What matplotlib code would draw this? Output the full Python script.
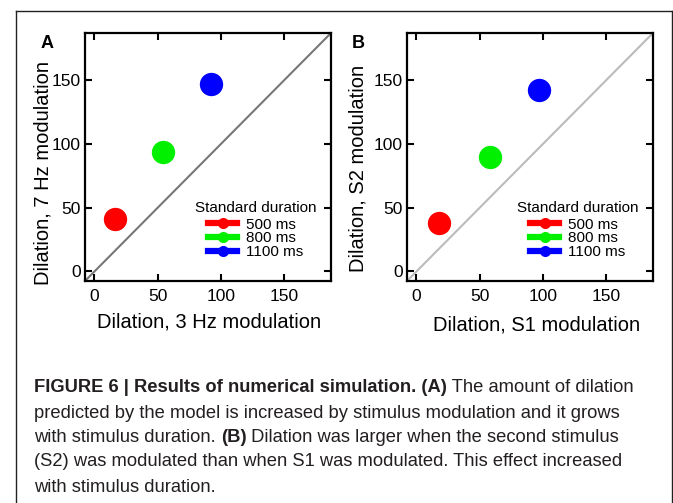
import matplotlib
matplotlib.use("Agg")
import matplotlib.pyplot as plt
from matplotlib.lines import Line2D
from matplotlib import font_manager

# ---------------- data ----------------
durations = ["500 ms", "800 ms", "1100 ms"]
colors = ["#ff0000", "#00f000", "#0000ff"]
a_x = [16, 54, 92]      # Dilation, 3 Hz modulation
a_y = [41, 94, 147]     # Dilation, 7 Hz modulation
b_x = [18, 58, 97]      # Dilation, S1 modulation
b_y = [38, 90, 142]     # Dilation, S2 modulation
ticks = [0, 50, 100, 150]

W, H = 673, 503
DPI = 100
plt.rcParams['font.family'] = ['Liberation Sans', 'DejaVu Sans']

fig = plt.figure(figsize=(W / DPI, H / DPI), dpi=DPI)

def px(x, y):
    return x / W, 1 - y / H

def make_axes(left, right, top, bottom):
    l, t = px(left, top)
    r, b = px(right, bottom)
    return fig.add_axes([l, b, r - l, t - b])

panels = [
    dict(box=(85, 331, 33, 281), x=a_x, y=a_y, diag="#777777",
         xlabel="Dilation, 3 Hz modulation", ylabel="Dilation, 7 Hz modulation",
         xl=(209, 322), yl=(43, 173), tag="A", tagpos=(47, 43)),
    dict(box=(407, 653, 33, 281), x=b_x, y=b_y, diag="#bbbbbb",
         xlabel="Dilation, S1 modulation", ylabel="Dilation, S2 modulation",
         xl=(537, 325), yl=(358, 168), tag="B", tagpos=(358, 43)),
]

lim = (-7.5, 187)
for p in panels:
    ax = make_axes(*p["box"])
    ax.axline((0, 0), slope=1, color=p["diag"], lw=1.5, zorder=1)
    for xi, yi, c in zip(p["x"], p["y"], colors):
        ax.plot([xi], [yi], 'o', ms=16.8, color=c, mec='none', zorder=3)
    ax.set_xlim(*lim)
    ax.set_ylim(*lim)
    ax.set_xticks(ticks)
    ax.set_yticks(ticks)
    ax.tick_params(direction='in', top=True, right=True, length=5, width=1.5,
                   labelsize=12.5)
    ax.tick_params(axis='x', pad=6)
    ax.tick_params(axis='y', pad=3)
    for s in ax.spines.values():
        s.set_linewidth(1.6)
    handles = [Line2D([], [], color=c, lw=4.5, marker='o', ms=8, mec='none')
               for c in colors]
    leg = ax.legend(handles, durations, title="Standard duration",
                    loc='upper right', bbox_to_anchor=(0.978, 0.36),
                    frameon=False, fontsize=11, title_fontsize=11,
                    handlelength=1.9, handletextpad=0.55, labelspacing=-0.02,
                    borderpad=0.1)
    leg._legend_box.sep = 2
    fx, fy = px(*p["xl"])
    fig.text(fx, fy, p["xlabel"], ha='center', va='center', fontsize=14.5)
    fx, fy = px(*p["yl"])
    fig.text(fx, fy, p["ylabel"], ha='center', va='center', fontsize=14.5,
             rotation=90)
    fx, fy = px(*p["tagpos"])
    fig.text(fx, fy, p["tag"], ha='center', va='center', fontsize=13,
             fontweight='bold')

# outer frame
fr_l, fr_r, fr_t = 15.5, 671.5, 11
for xs, ys in [((fr_l, fr_l), (fr_t, H + 5)), ((fr_l, fr_r), (fr_t, fr_t)),
               ((fr_r, fr_r), (fr_t, H + 5))]:
    fig.add_artist(Line2D([x / W for x in xs], [1 - y / H for y in ys],
                          transform=fig.transFigure, color='#222222', lw=1.0))

# caption
try:
    font_manager.findfont('Liberation Sans Narrow', fallback_to_default=False)
    cap_family = ['Liberation Sans Narrow', 'DejaVu Sans']
    cap_size = 14
except Exception:
    cap_family = ['Liberation Sans', 'DejaVu Sans']
    cap_size = 13.2

caption = [
    [("FIGURE 6 | Results of numerical simulation. (A)", True),
     (" The amount of dilation", False)],
    [("predicted by the model is increased by stimulus modulation and it grows", False)],
    [("with stimulus duration. ", False), ("(B)", True),
     (" Dilation was larger when the second stimulus", False)],
    [("(S2) was modulated than when S1 was modulated. This effect increased", False)],
    [("with stimulus duration.", False)],
]
line_y = [388, 413, 437, 462, 487]
x0 = 34
renderer = fig.canvas.get_renderer()
for parts, yy in zip(caption, line_y):
    x = x0
    for txt, bold in parts:
        t = fig.text(x / W, 1 - yy / H, txt, ha='left', va='center',
                     fontsize=cap_size, family=cap_family,
                     fontweight='bold' if bold else 'normal', color='#231f20')
        bb = t.get_window_extent(renderer=renderer)
        x = x + bb.width

fig.savefig("out.png", dpi=DPI)
